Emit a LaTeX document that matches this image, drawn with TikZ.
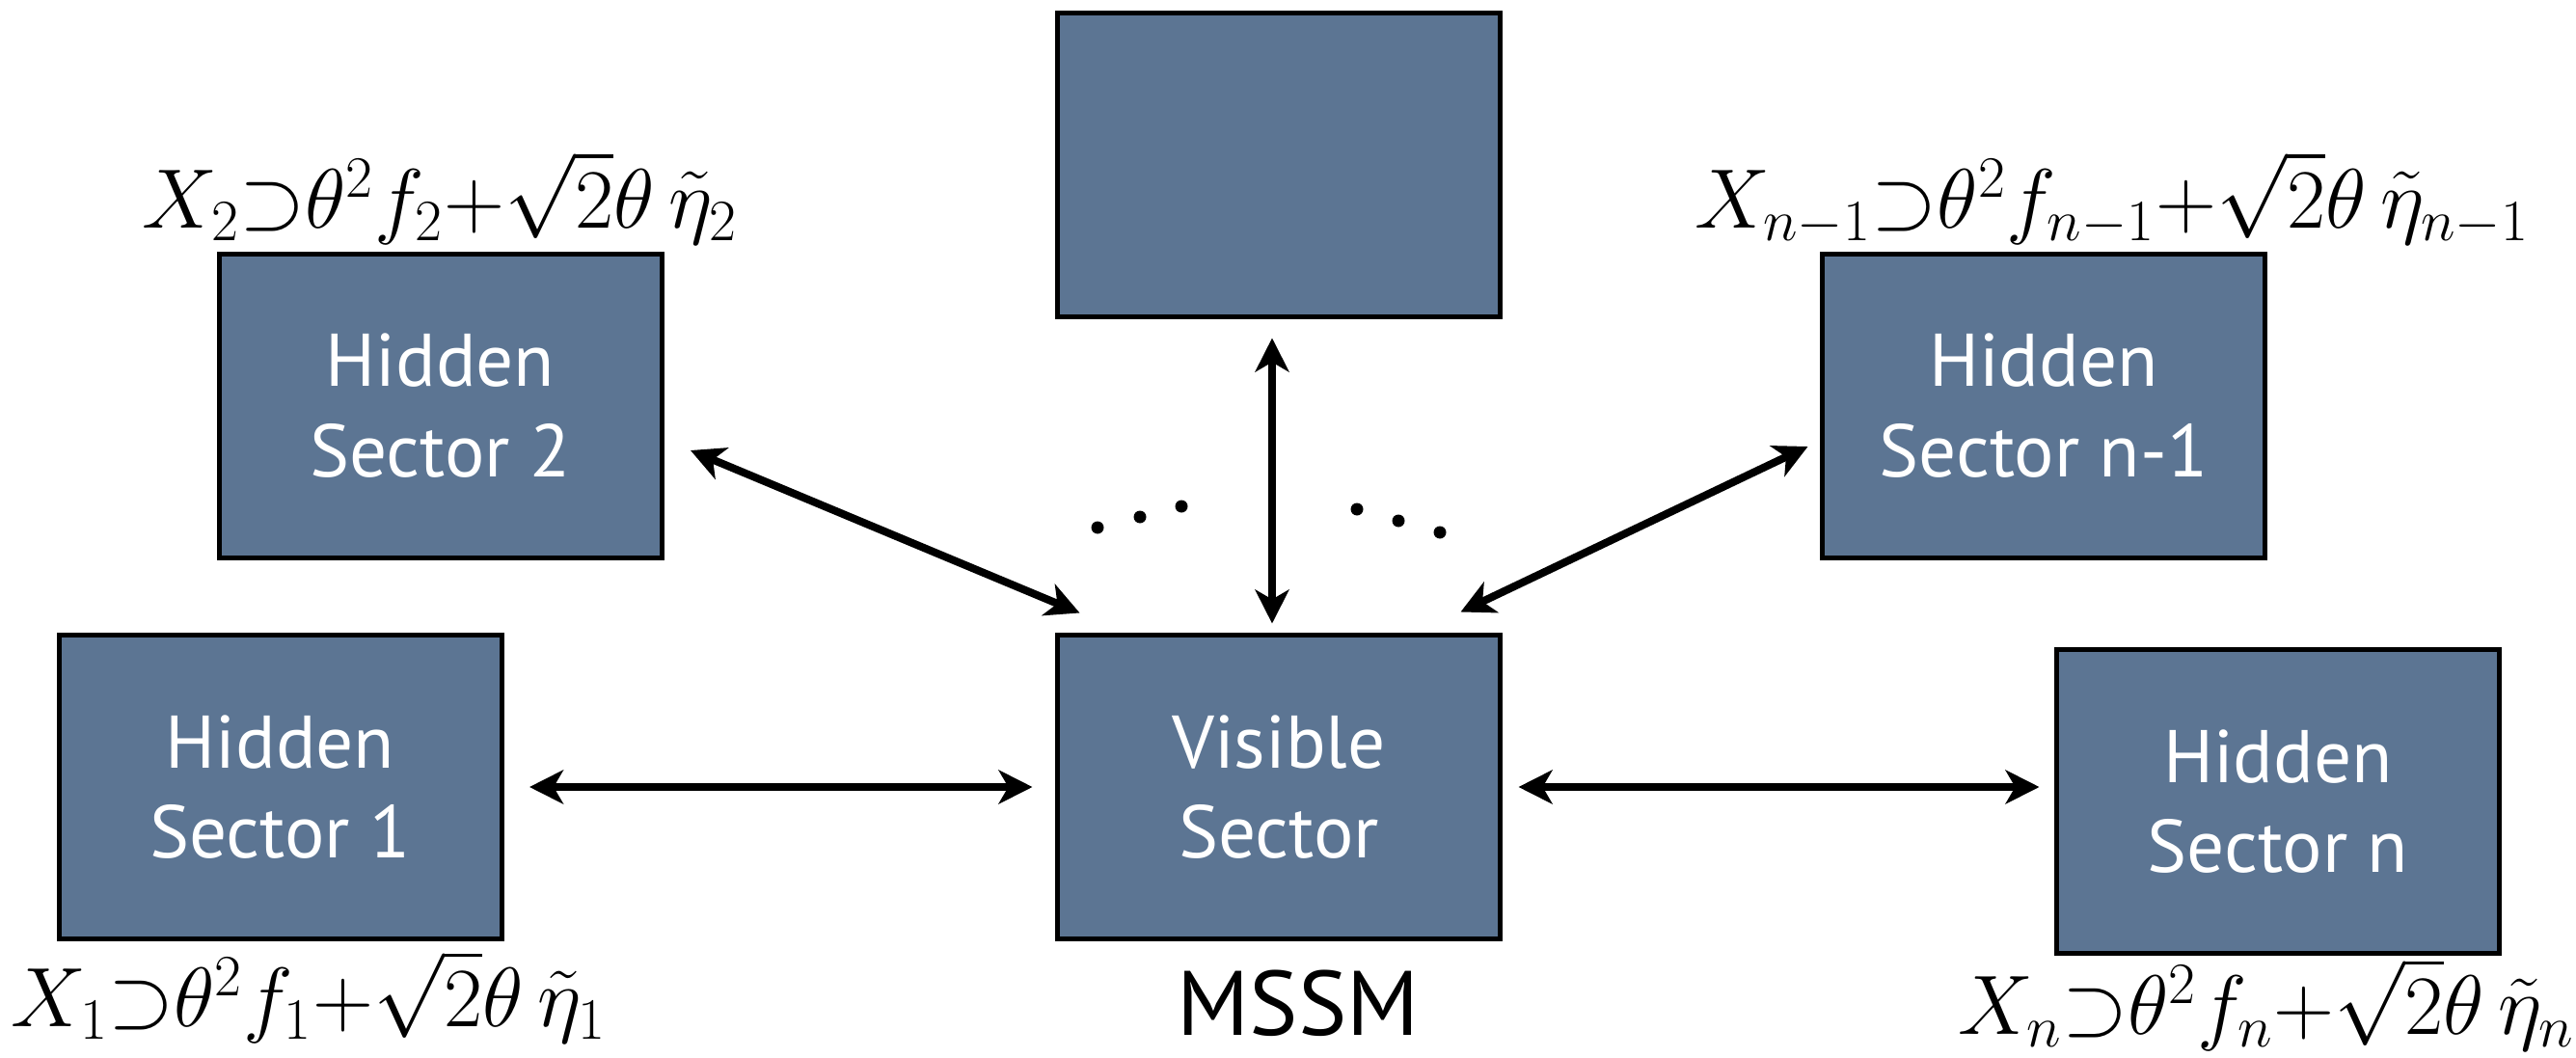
\documentclass[tikz,border=0pt]{standalone}
\usepackage{amsmath}
\usepackage[no-math]{fontspec}
\setmainfont{PT Sans}
\usetikzlibrary{arrows.meta,positioning}
\definecolor{slate}{RGB}{92,117,147}

\begin{document}
\begin{tikzpicture}[
    sector/.style={draw=black, line width=0.05cm, fill=slate, text=white,
      minimum width=4.59cm, minimum height=3.15cm, inner sep=0pt, align=center,
      font=\fontsize{22}{26.7}\selectfont},
    link/.style={line width=0.08cm,
      {Stealth[length=0.35cm,width=0.35cm,inset=0.1cm]}-{Stealth[length=0.35cm,width=0.35cm,inset=0.1cm]}},
    superpot/.style={inner sep=0pt, anchor=base, font=\fontsize{24.6}{29}\selectfont},
  ]
  \useasboundingbox (0,0) rectangle (26.71,10.96);

  % sectors
  \node[sector] (vis) at (13.26,2.80) {Visible\\Sector};
  \node[sector] (top) at (13.26,9.25) {};
  \node[sector] (hs1) at (2.905,2.80) {Hidden\\Sector 1};
  \node[sector] (hs2) at (4.565,6.75) {Hidden\\Sector 2};
  \node[sector] (hsm) at (21.19,6.75) {Hidden\\Sector n-1};
  \node[sector] (hsn) at (23.62,2.65) {Hidden\\Sector n};

  % spurions
  \node[superpot] (f1) at ([xshift=0.30cm,yshift=-0.885cm]hs1.south)
    {$X_1{\supset}\theta^2 f_1{+}\sqrt{2}\theta\,\tilde\eta_1$};
  \node[superpot] (f2) at ([yshift=0.25cm]hs2.north)
    {$X_2{\supset}\theta^2 f_2{+}\sqrt{2}\theta\,\tilde\eta_2$};
  \node[superpot] (fm) at ([xshift=0.71cm,yshift=0.25cm]hsm.north)
    {$X_{n-1}{\supset}\theta^2 f_{n-1}{+}\sqrt{2}\theta\,\tilde\eta_{n-1}$};
  \node[superpot] (fn) at ([xshift=-0.12cm,yshift=-0.815cm]hsn.south)
    {$X_n{\supset}\theta^2 f_n{+}\sqrt{2}\theta\,\tilde\eta_n$};
  \node[anchor=base, inner sep=0pt, font=\fontsize{27}{32}\selectfont] (mssm)
    at ([xshift=0.2cm,yshift=-0.975cm]vis.south) {MSSM};

  % couplings
  \draw[link] ([xshift=0.265cm]hs1.east) -- ([xshift=-0.235cm]vis.west);
  \draw[link] ([xshift=0.165cm]vis.east) -- ([xshift=-0.155cm]vis.east -| hsn.west);
  \draw[link] ([xshift=-0.07cm,yshift=-0.195cm]top.south) -- ([xshift=-0.07cm,yshift=0.095cm]vis.north);
  \draw[link] ([shift={(0.275,-0.46)}]hs2.east) -- ([shift={(0.255,0.205)}]vis.north west);
  \draw[link] ([shift={(-0.125,-0.42)}]hsm.west) -- ([shift={(-0.435,0.215)}]vis.north east);

  % more sectors in between
  \foreach \x/\y in {11.38/5.49, 11.82/5.60, 12.25/5.71, 14.07/5.68, 14.50/5.56, 14.93/5.44}
    \fill (\x,\y) circle (0.065);
\end{tikzpicture}
\end{document}
